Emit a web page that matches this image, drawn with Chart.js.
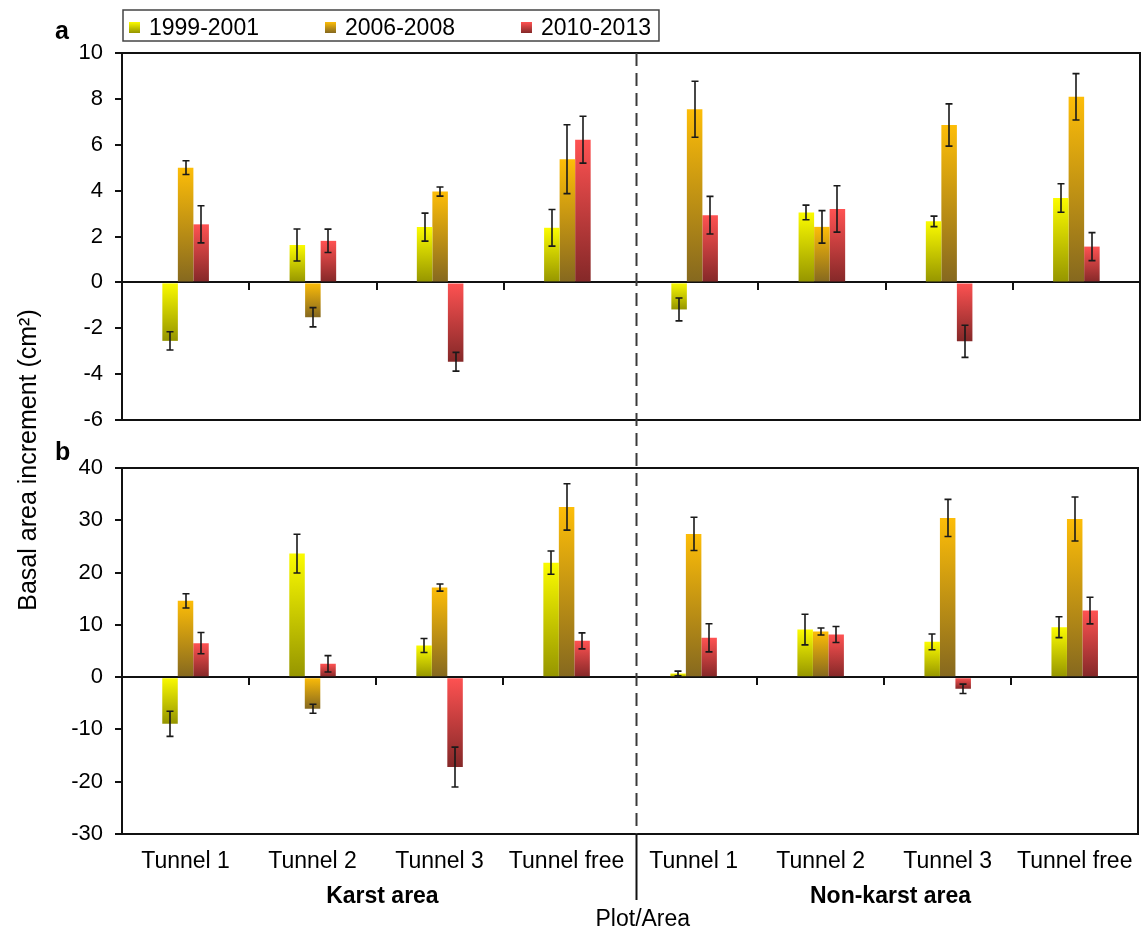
<!DOCTYPE html>
<html>
<head>
<meta charset="utf-8">
<title>Basal area increment by plot and area</title>
<script src="https://cdn.jsdelivr.net/npm/chart.js@4/dist/chart.umd.min.js"></script>
<style>
  html, body { margin: 0; padding: 0; background: #ffffff; }
  #wrap { position: relative; width: 1147px; height: 933px; }
  #wrap canvas { position: absolute; left: 0; top: 0; }
</style>
</head>
<body>
<div id="wrap">
  <canvas id="panelA" width="1147" height="933"></canvas>
  <canvas id="panelB" width="1147" height="933"></canvas>
</div>
<script>
// ---- categories and labels ----
const categories = ['Tunnel 1', 'Tunnel 2', 'Tunnel 3', 'Tunnel free',
                    'Tunnel 1', 'Tunnel 2', 'Tunnel 3', 'Tunnel free'];
const areaNames = ['Karst area', 'Non-karst area'];
const periods = ['1999-2001', '2006-2008', '2010-2013'];
const panelNames = ['a', 'b'];
const xAxisTitle = 'Plot/Area';
const yAxisTitle = 'Basal area increment (cm\u00B2)';

// ---- panel a values (cm²) and error bars ----
const a1999 = [-2.55, 1.63, 2.41, 2.38, -1.18, 3.05, 2.66, 3.68];
const a1999Err = [0.40, 0.70, 0.61, 0.80, 0.50, 0.32, 0.23, 0.62];
const a2006 = [5.00, -1.52, 3.96, 5.37, 7.55, 2.42, 6.86, 8.09];
const a2006Err = [0.30, 0.42, 0.20, 1.50, 1.22, 0.71, 0.92, 1.01];
const a2010 = [2.53, 1.81, -3.46, 6.22, 2.93, 3.20, -2.57, 1.56];
const a2010Err = [0.81, 0.51, 0.41, 1.02, 0.82, 1.01, 0.70, 0.61];
const aTickValues = [-6, -4, -2, 0, 2, 4, 6, 8, 10];

// ---- panel b values (cm²) and error bars ----
const b1999 = [-8.92, 23.63, 6.05, 21.90, 0.70, 9.10, 6.75, 9.55];
const b1999Err = [2.40, 3.70, 1.34, 2.23, 0.45, 2.93, 1.50, 2.00];
const b2006 = [14.59, -6.05, 17.13, 32.55, 27.39, 8.73, 30.45, 30.25];
const b2006Err = [1.37, 0.86, 0.67, 4.43, 3.18, 0.67, 3.54, 4.20];
const b2010 = [6.50, 2.55, -17.20, 6.94, 7.52, 8.15, -2.23, 12.74];
const b2010Err = [2.04, 1.56, 3.82, 1.53, 2.68, 1.53, 0.90, 2.55];
const bTickValues = [-30, -20, -10, 0, 10, 20, 30, 40];

// ---- styling ----
const FONT = "'Liberation Sans', Arial, Helvetica, sans-serif";
const AXIS = '#111111';
const fillTop = ['#fbfb00', '#fdbd08', '#ff5252'];
const fillBottom = ['#959500', '#85681f', '#842828'];

Chart.defaults.font.family = FONT;
Chart.defaults.color = '#000000';

// vertical gradient per bar: bright at the upper edge, dark at the lower edge
function barFill(k) {
  return (ctx) => {
    const chart = ctx.chart;
    if (ctx.type !== 'data' || !chart.chartArea) return fillTop[k];
    const ys = chart.scales.y;
    const p0 = ys.getPixelForValue(0);
    const p1 = ys.getPixelForValue(ctx.raw);
    const y0 = Math.min(p0, p1);
    const y1 = Math.max(p0, p1);
    const g = chart.ctx.createLinearGradient(0, y0, 0, y1 > y0 ? y1 : y0 + 1);
    g.addColorStop(0, fillTop[k]);
    g.addColorStop(1, fillBottom[k]);
    return g;
  };
}

function series(k, data, errors) {
  return {
    label: periods[k],
    data: data,
    errors: errors,
    backgroundColor: barFill(k),
    borderWidth: 0,
    categoryPercentage: 0.366,
    barPercentage: 1.0
  };
}

// error bars drawn from each bar's value ± its error through the value scale
const errorBars = {
  id: 'errorBars',
  afterDatasetsDraw(chart) {
    const ctx = chart.ctx;
    const ys = chart.scales.y;
    ctx.save();
    ctx.strokeStyle = '#1a1a1a';
    ctx.lineWidth = 1.6;
    chart.data.datasets.forEach((ds, di) => {
      const meta = chart.getDatasetMeta(di);
      meta.data.forEach((bar, i) => {
        const v = ds.data[i];
        const e = ds.errors[i];
        const yHi = ys.getPixelForValue(v + e);
        const yLo = ys.getPixelForValue(v - e);
        const x = Math.round(bar.x);
        ctx.beginPath();
        ctx.moveTo(x, yHi); ctx.lineTo(x, yLo);
        ctx.moveTo(x - 3.5, yHi); ctx.lineTo(x + 3.5, yHi);
        ctx.moveTo(x - 3.5, yLo); ctx.lineTo(x + 3.5, yLo);
        ctx.stroke();
      });
    });
    ctx.restore();
  }
};

function frameX(position) {
  return {
    type: 'category', labels: categories, position: position, offset: true,
    ticks: { display: false },
    grid: { display: false, drawTicks: false },
    border: { display: true, color: AXIS, width: 2 },
    afterFit(s) { s.height = 0; }
  };
}

function scalesFor(tickValues, bottomAxis) {
  const min = tickValues[0];
  const max = tickValues[tickValues.length - 1];
  return {
    y: {
      type: 'linear', position: 'left', min: min, max: max,
      afterBuildTicks(s) { s.ticks = tickValues.map(v => ({ value: v })); },
      ticks: { font: { size: 22 }, color: '#000', padding: 12 },
      grid: { drawOnChartArea: false, drawTicks: true, tickLength: 7, color: AXIS, lineWidth: 2 },
      border: { display: true, color: AXIS, width: 2 },
      afterFit(s) { s.width = 60; }
    },
    yr: {
      type: 'linear', position: 'right', min: min, max: max,
      ticks: { display: false },
      grid: { display: false, drawTicks: false },
      border: { display: true, color: AXIS, width: 2 },
      afterFit(s) { s.width = 0; }
    },
    x: {
      type: 'category', labels: categories, position: { y: 0 }, offset: true,
      ticks: { display: false },
      grid: {
        offset: true, drawOnChartArea: false, drawTicks: true, tickLength: 7, lineWidth: 2,
        color: (c) => (c.index === 4 ? 'rgba(0,0,0,0)' : AXIS)
      },
      border: { display: true, color: AXIS, width: 2 }
    },
    xt: frameX('top'),
    xb: bottomAxis
  };
}

const chartA = new Chart(document.getElementById('panelA'), {
  type: 'bar',
  data: {
    labels: categories,
    datasets: [series(0, a1999, a1999Err), series(1, a2006, a2006Err), series(2, a2010, a2010Err)]
  },
  options: {
    responsive: false,
    animation: false,
    layout: { padding: { left: 62, right: 7, top: 53, bottom: 513 } },
    plugins: { legend: { display: false }, tooltip: { enabled: false } },
    scales: scalesFor(aTickValues, frameX('bottom'))
  },
  plugins: [errorBars, {
    id: 'panelAExtras',
    afterDraw(chart) {
      const ctx = chart.ctx;
      const area = chart.chartArea;
      ctx.save();
      // panel letter
      ctx.fillStyle = '#000';
      ctx.font = 'bold 25px ' + FONT;
      ctx.textAlign = 'left';
      ctx.textBaseline = 'alphabetic';
      ctx.fillText(panelNames[0], 55, 39);
      // legend
      ctx.font = '23px ' + FONT;
      const boxLeft = area.left + 1;
      const boxTop = 10;
      const boxH = 31;
      let x = boxLeft + 6;
      periods.forEach((p, k) => {
        const g = ctx.createLinearGradient(0, 22, 0, 33);
        g.addColorStop(0, fillTop[k]);
        g.addColorStop(1, fillBottom[k]);
        ctx.fillStyle = g;
        ctx.fillRect(x, 22, 11, 11);
        ctx.fillStyle = '#000';
        ctx.fillText(p, x + 20, 35);
        x += 20 + ctx.measureText(p).width + (k < periods.length - 1 ? 66 : 0);
      });
      ctx.strokeStyle = '#444';
      ctx.lineWidth = 1.5;
      ctx.strokeRect(boxLeft, boxTop, x + 8 - boxLeft, boxH);
      ctx.restore();
    }
  }]
});

const labelAxis = {
  type: 'category', labels: categories, position: 'bottom', offset: true,
  ticks: { font: { size: 23 }, color: '#000', padding: 14, maxRotation: 0, minRotation: 0, autoSkip: false },
  grid: { display: false, drawTicks: false },
  border: { display: true, color: AXIS, width: 2 },
  afterFit(s) { s.height = 99; }
};

const chartB = new Chart(document.getElementById('panelB'), {
  type: 'bar',
  data: {
    labels: categories,
    datasets: [series(0, b1999, b1999Err), series(1, b2006, b2006Err), series(2, b2010, b2010Err)]
  },
  options: {
    responsive: false,
    animation: false,
    layout: { padding: { left: 62, right: 7, top: 468, bottom: 0 } },
    plugins: { legend: { display: false }, tooltip: { enabled: false } },
    scales: scalesFor(bTickValues, labelAxis)
  },
  plugins: [errorBars, {
    id: 'panelBExtras',
    afterDraw(chart) {
      const ctx = chart.ctx;
      const area = chart.chartArea;
      const xs = chart.scales.x;
      ctx.save();
      // panel letter
      ctx.fillStyle = '#000';
      ctx.font = 'bold 25px ' + FONT;
      ctx.textAlign = 'left';
      ctx.textBaseline = 'alphabetic';
      ctx.fillText(panelNames[1], 55, 460);

      // shared value-axis title
      ctx.save();
      ctx.translate(29, 460);
      ctx.rotate(-Math.PI / 2);
      ctx.font = '25px ' + FONT;
      ctx.textAlign = 'center';
      ctx.textBaseline = 'middle';
      ctx.fillText(yAxisTitle, 0, 0);
      ctx.restore();

      // divider between the karst and non-karst plots
      const xd = Math.round(xs.getPixelForValue(3.55)) + 0.5;
      ctx.strokeStyle = '#3a3a3a';
      ctx.lineWidth = 2;
      ctx.setLineDash([13, 7]);
      ctx.beginPath();
      ctx.moveTo(xd, chartA.chartArea.top);
      ctx.lineTo(xd, area.bottom);
      ctx.stroke();
      ctx.setLineDash([]);
      ctx.strokeStyle = '#111';
      ctx.beginPath();
      ctx.moveTo(xd, area.bottom);
      ctx.lineTo(xd, area.bottom + 66);
      ctx.stroke();

      // area group labels and axis title
      ctx.textAlign = 'center';
      ctx.font = 'bold 23px ' + FONT;
      ctx.fillText(areaNames[0], xs.getPixelForValue(1.55), area.bottom + 69);
      ctx.fillText(areaNames[1], xs.getPixelForValue(5.55), area.bottom + 69);
      ctx.font = '23px ' + FONT;
      ctx.fillText(xAxisTitle, xs.getPixelForValue(3.6), area.bottom + 92);
      ctx.restore();
    }
  }]
});
</script>
</body>
</html>
